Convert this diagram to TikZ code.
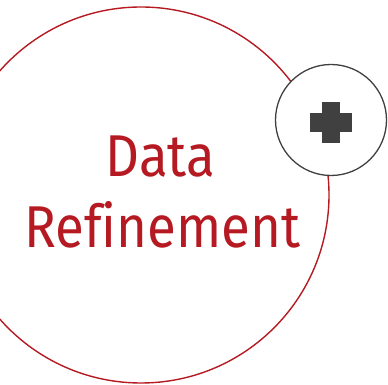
\documentclass[tikz,border=0pt]{standalone}
\usepackage{fontspec}
\setmainfont{Fira Sans}[Ligatures=NoCommon]
\definecolor{refred}{RGB}{181,26,34}
\definecolor{plusgray}{RGB}{64,64,64}
\newcommand{\narrow}[1]{\scalebox{0.895}[1]{#1}}

\begin{document}
\begin{tikzpicture}[x=1pt, y=1pt, thick]
    \useasboundingbox (0,0) rectangle (388,385);
    \clip (0,0) rectangle (388,385);

    \node[circle, draw=refred, line width=1.4pt, minimum size=376pt, inner sep=0pt] (big) at (141,190) {};

    \node[anchor=base, text=refred, font=\fontsize{59}{59}\selectfont, inner sep=0pt] (data) at (160.5,208) {\narrow{Data}};
    \node[anchor=base, text=refred, font=\fontsize{59}{59}\selectfont, inner sep=0pt] (refine) at (162.5,137) {\narrow{Refinement}};

    \node[circle, draw=plusgray, fill=white, line width=1.3pt, minimum size=111pt, inner sep=0pt] (add) at (331,265) {};
    \fill[plusgray] (310,253) rectangle (352,272);
    \fill[plusgray] (322,242) rectangle (340,283);
\end{tikzpicture}
\end{document}
